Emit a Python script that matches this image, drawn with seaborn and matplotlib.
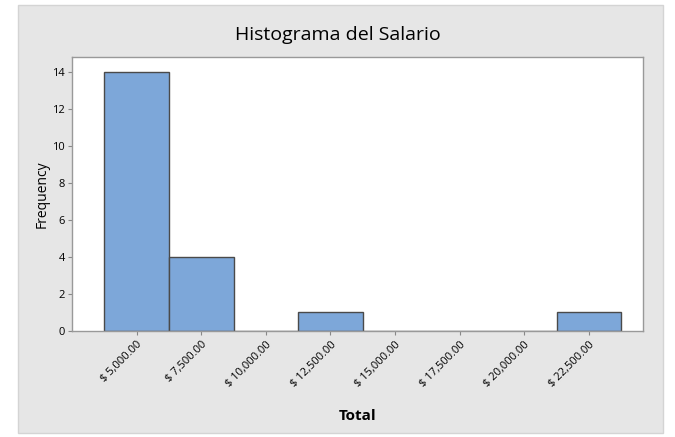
import numpy as np
import pandas as pd
import matplotlib.pyplot as plt
import seaborn as sns
from matplotlib.patches import Rectangle

sns.set_theme(style="white")
plt.rcParams['font.family'] = ['Open Sans', 'DejaVu Sans']
plt.rcParams['text.color'] = 'black'
plt.rcParams['axes.labelcolor'] = 'black'
plt.rcParams['xtick.color'] = 'black'
plt.rcParams['ytick.color'] = 'black'

# Datos del histograma (centro de cada clase y frecuencia)
bin_centers = [5000, 7500, 10000, 12500, 15000, 17500, 20000, 22500]
frequencies = [14, 4, 0, 1, 0, 0, 0, 1]
tick_labels = ['$ 5,000.00', '$ 7,500.00', '$ 10,000.00', '$ 12,500.00',
               '$ 15,000.00', '$ 17,500.00', '$ 20,000.00', '$ 22,500.00']

df = pd.DataFrame({'Total': bin_centers, 'Frequency': frequencies})

fig = plt.figure(figsize=(6.75, 4.37), dpi=100)
fig.patch.set_facecolor('white')
fig.patches.append(Rectangle((0.026, 0.01), 0.956, 0.978, transform=fig.transFigure,
                             facecolor='#e6e6e6', edgecolor='#d4d4d4', lw=1, zorder=-1))
ax = fig.add_axes([0.1067, 0.2426, 0.846, 0.627])

sns.histplot(data=df, x='Total', weights='Frequency', binwidth=2500,
             binrange=(3750, 23750), ax=ax,
             color='#7da7d9', edgecolor='#4a4a4a', linewidth=1, alpha=1)

ax.set_xlim(2500, 24600)
ax.set_ylim(0, 14.8)
ax.set_xticks(bin_centers)
ax.set_xticklabels(tick_labels, rotation=45, ha='right', rotation_mode='anchor', fontsize=8)
ax.set_yticks(range(0, 15, 2))
ax.tick_params(axis='y', labelsize=8, length=3, width=0.8, color='#888888', pad=2, left=True)
ax.tick_params(axis='x', length=3, width=0.8, color='#888888', pad=3, bottom=True)
for s in ax.spines.values():
    s.set_color('#999999')
    s.set_linewidth(1)
ax.set_facecolor('white')

ax.set_xlabel('Total', fontsize=11, fontweight='bold', labelpad=14)
ax.set_ylabel('Frequency', fontsize=10, labelpad=2)
fig.suptitle('Histograma del Salario', fontsize=14, y=0.94)

fig.savefig('out.png', dpi=100, facecolor=fig.get_facecolor())
